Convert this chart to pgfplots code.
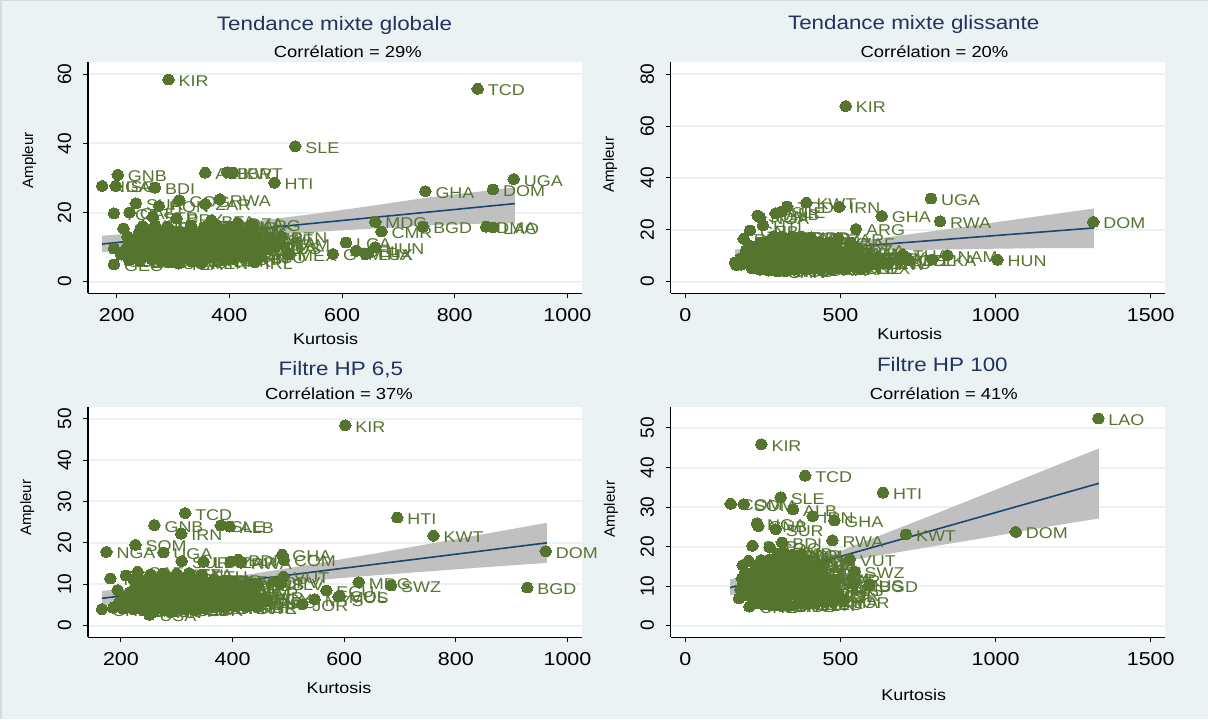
\documentclass[border=0pt]{standalone}
\usepackage{pgfplots}
\pgfplotsset{compat=1.18}
\usepackage{fontspec}
\setmainfont{Liberation Sans}
% the reference is stretched sideways: horizontal text gets a wider font
\newfontfamily\widesf[FakeStretch=1.15]{Liberation Sans}
\definecolor{bgc}{HTML}{EAF2F3}
\definecolor{ptc}{HTML}{55752F}
\definecolor{linec}{HTML}{1A476F}
\definecolor{titlec}{HTML}{22335F}
\definecolor{bandc}{HTML}{C0C0C0}

\pgfplotsset{
  stata/.style={
    scale only axis, anchor=south west, clip=false,
    width=370.5pt,
    axis x line*=bottom, axis y line*=left,
    axis line style={black,line width=0.9pt,-},
    axis background/.style={fill=white},
    ymajorgrids,
    grid style={bgc,line width=1.5pt},
    tick style={black,line width=0.7pt},
    tick align=outside,
    major tick length=3.8pt,
    /pgf/number format/assume math mode=true,
    /pgf/number format/1000 sep={},
    every axis title shift=0pt,
    xticklabel style={font=\widesf\fontsize{14}{14}\selectfont,yshift=-7.5pt,text height=10pt,inner sep=0pt},
    yticklabel style={font=\fontsize{14.3}{14}\selectfont,rotate=90,anchor=south,xshift=0pt,yshift=8.5pt,inner sep=0pt},
    title style={font=\widesf\fontsize{14.6}{15}\selectfont,text=titlec,anchor=center},
    xlabel style={font=\widesf\fontsize{11.7}{12}\selectfont,anchor=center},
    ylabel style={font=\fontsize{11.3}{12}\selectfont,anchor=center,rotate=0},
  },
  pts/.style={
    only marks, mark=*, mark size=4.2pt,
    mark options={draw=ptc,fill=ptc,line width=0pt,xscale=1.05,yscale=0.95},
    point meta=explicit symbolic,
    nodes near coords,
    nodes near coords style={anchor=west,inner sep=0pt,xshift=7.6pt,yshift=-1.2pt,
      font=\widesf\fontsize{11.7}{12}\selectfont,text=ptc},
  },
  band/.style={fill=bandc,draw=none,forget plot},
  fit/.style={linec,line width=1.2pt,no marks},
}

\newcommand{\subt}[2]{\node[font=\widesf\fontsize{12}{12}\selectfont,anchor=center] at (rel axis cs:#1,#2)}

\begin{document}
\begin{tikzpicture}
\fill[bgc] (0,0) rectangle (906pt,539.25pt);
\fill[black!15] (0,0) rectangle (1.5pt,539.25pt);
\fill[black!15] (0,538.5pt) rectangle (906pt,539.25pt);

% ---- Tendance mixte globale
\begin{axis}[stata, at={(66pt,319.3pt)}, height=173.5pt,
  xmin=149, xmax=1026, ymin=-3.36, ymax=63.6,
  xtick={200,400,600,800,1000}, ytick={0,20,40,60},
  title={Tendance mixte globale}, title style={at={(axis description cs:0.499,1.157)}},
  xlabel={Kurtosis}, xlabel style={at={(axis description cs:0.481,-0.196)}},
  ylabel={Ampleur}, ylabel style={at={(axis description cs:-0.119,0.574)}},
]
\addplot[band] coordinates {(174,13.3)(250,14.2)(340,15.5)(450,17.6)(550,19.6)(650,21.9)(750,24.3)(850,26.2)(907,27.3)
  (907,16.9)(850,16.8)(750,16.3)(650,15.3)(550,14.4)(450,13.3)(340,11.7)(250,10.0)(174,8.5)} -- cycle;
\addplot[fit] coordinates {(174,10.9)(907,22.6)};
\addplot[pts] coordinates {
 (292,58.5)[KIR] (841,55.8)[TCD] (517,39.2)[SLE] (905,29.7)[UGA] (868,26.7)[DOM] (748,26.2)[GHA] (480,28.6)[HTI]
 (357,31.5)[ALB] (396,31.7)[LBR] (406,31.6)[KWT] (202,30.9)[GNB] (174,27.7)[NGA] (198,27.7)[ISG] (268,27.2)[BDI]
 (311,23.6)[COG] (383,23.9)[RWA] (357,22.5)[ZAR] (234,22.7)[SUR] (275,21.9)[HON] (195,19.8)[TCA] (223,20)[CAF]
 (264,18.8)[STP] (306,18.3)[PRY] (368,17.8)[BFA] (415,17)[DZA] (440,16.6)[ARG] (659,17.3)[MDG] (670,14.5)[CMR] (744,15.9)[BGD]
 (856,15.9)[DMA] (868,15.7)[LAO] (607,11.3)[LCA] (625,8.9)[BEL] (659,10)[HUN] (642,8)[THA] (646,8.2)[LUX] (584,8)[GTM]
 (504,7.9)[MEX] (445,5.6)[IRL] (492,13)[BTN] (478,10)[BOS] (212,15.4)[SEN] (195,9.6)[FJI] (195,5)[GEO]
 (222,6.2)[CZE] (241,5.9)[EST] (262,6.5)[BEN] (279,6)[CAN] (298,5.5)[USA] (316,6.7)[CHE] (333,5.8)[NOR] (352,6.4)[SWE] (371,6.9)[FRA] (389,6.2)[DNK] (408,6.6)[AUT] (426,7)[JPN]
 (208,7.8)[AUS] (226,8.2)[NZL] (244,7.6)[NLD] (259,8.4)[DEU] (277,7.9)[ITA] (295,8.3)[ESP] (312,8)[GBR] (329,7.7)[FIN] (347,8.5)[GRC] (365,8.1)[PRT] (384,7.9)[KOR] (402,8.4)[ISR] (420,8.2)[ISL] (437,7.7)[CYP] (455,8)[MLT]
 (216,9.5)[POL] (233,10)[SVK] (251,9.4)[SVN] (269,9.9)[HRV] (286,9.6)[LTU] (303,10.1)[LVA] (321,9.5)[BGR] (339,9.8)[ROU] (356,10.2)[UKR] (374,9.6)[RUS] (393,10)[BLR] (411,9.7)[KAZ] (429,10.1)[KGZ] (447,9.4)[TJK] (466,9.8)[MDA]
 (222,11.3)[MKD] (239,11)[SRB] (257,11.6)[TUR] (274,11.1)[TUN] (292,11.5)[MAR] (310,11.2)[EGY] (327,11.7)[JOR] (345,11)[SYR] (363,11.4)[YEM] (381,11.2)[OMN] (399,11.6)[IRQ] (417,11)[PAK] (435,11.5)[IND] (453,11.3)[NPL]
 (219,13)[LKA] (236,12.7)[BHS] (254,13.2)[CHN] (271,12.6)[MNG] (289,13)[VNM] (306,12.8)[KHM] (324,13.3)[MYS] (342,12.6)[SGP] (360,13)[IDN] (378,12.7)[PHL] (396,13.1)[PNG] (414,12.8)[BRA] (432,13.2)[CHL] (448,12.9)[PER]
 (240,14.4)[COL] (258,14.9)[ECU] (276,14.3)[BOL] (294,14.7)[URY] (313,14.4)[VEN] (331,15)[GUY] (349,14.3)[JAM] (367,14.8)[TTO] (386,14.4)[BRB] (404,14.9)[PAN] (422,14.3)[CRI] (440,14.6)[NIC]
 (246,16.1)[HND] (268,16.4)[SLV] (290,15.9)[BLZ] (332,16.2)[GRD] (355,15.8)[MOZ] (378,16.3)[MWI] (400,15.9)[ZMB]
 (471,12.4)[ZAF] (490,10.9)[NAM] (465,11.5)[BWA] (455,7.2)[LSO] (350,5.5)[KEN] (310,5.2)[TZA]
};
\subt{0.526}{1.045}{Corrélation = 29\%};
\end{axis}

% ---- Tendance mixte glissante
\begin{axis}[stata, at={(503pt,319.3pt)}, height=173.5pt,
  xmin=-47.5, xmax=1545, ymin=-4.48, ymax=84.7,
  xtick={0,500,1000,1500}, ytick={0,20,40,60,80},
  title={Tendance mixte glissante}, title style={at={(axis description cs:0.492,1.16)}},
  xlabel={Kurtosis}, xlabel style={at={(axis description cs:0.484,-0.176)}},
  ylabel={Ampleur}, ylabel style={at={(axis description cs:-0.123,0.555)}},
]
\addplot[band] coordinates {(160,12.4)(250,12.8)(400,13.7)(550,15.5)(700,17.9)(850,20.3)(1000,22.9)(1150,25.4)(1317,28.2)
  (1317,12.9)(1150,12.9)(1000,12.7)(850,12.4)(700,12.1)(550,11.7)(400,10.7)(250,8.9)(160,7.6)} -- cycle;
\addplot[fit] coordinates {(160,10)(1317,20.7)};
\addplot[pts] coordinates {
 (517,67.7)[KIR] (792,32)[UGA] (821,23.3)[RWA] (1315,23)[DOM] (633,25.3)[GHA] (496,28.8)[IRN] (390,30.4)[KWT]
 (328,28.9)[TCD] (310,27)[SLE] (291,26.4)[ALB] (233,25.5)[SOM] (241,24.8)[NGA] (250,21.7)[HTI] (208,19.7)[GNB] (188,16.5)[BDI]
 (550,20.3)[ARG] (493,16.8)[ZAR] (534,15)[ZAF] (560,12.5)[DZA] (1006,8.4)[HUN] (845,10.2)[NAM] (796,8.6)[LKA] (701,10.3)[THA] (720,8.4)[COL] (695,8.6)[SLE]
 (164,6.4)[LAO] (160,7.3)[GEO] (179,9)[FJI]
 (215,5.1)[CZE] (240,4.6)[EST] (268,4.2)[USA] (297,3.9)[CAN] (324,4.1)[AUS] (352,4.6)[NZL] (380,4.9)[NOR] (408,5)[SWE] (436,4.8)[FRA] (464,5.2)[DNK] (492,5)[AUT] (520,5.3)[JPN] (550,5.4)[BEL] (580,5.5)[LUX]
 (178,6.5)[NLD] (203,6.9)[DEU] (231,7.1)[ITA] (259,6.7)[ESP] (287,7.2)[GBR] (315,6.8)[FIN] (343,7)[GRC] (371,7.3)[PRT] (399,6.7)[KOR] (427,7.1)[ISR] (455,6.9)[ISL] (483,7.2)[CYP] (511,6.8)[MLT] (539,7.3)[POL] (567,6.9)[SVK] (595,7.2)[SVN] (625,7)[HRV] (655,7.4)[LTU]
 (196,9.2)[LVA] (224,8.8)[BGR] (252,9.3)[ROU] (280,9)[UKR] (308,9.4)[RUS] (336,8.9)[BLR] (364,9.2)[KAZ] (392,9)[KGZ] (420,9.5)[TJK] (448,8.9)[MDA] (476,9.3)[MKD] (504,9.1)[SRB] (532,9.4)[TUR] (560,8.9)[TUN] (590,9.2)[MAR] (620,9.5)[EGY]
 (215,11)[JOR] (243,11.4)[SYR] (271,10.9)[YEM] (299,11.2)[OMN] (327,11.5)[IRQ] (355,11)[PAK] (383,11.3)[IND] (411,10.9)[NPL] (439,11.4)[BHS] (467,11.1)[CHN] (495,11.3)[MNG] (523,11)[VNM] (550,11.3)[KHM]
 (225,13.2)[MYS] (253,13)[SGP] (281,13.4)[IDN] (309,12.9)[PHL] (337,13.3)[PNG] (365,13)[BRA] (393,13.4)[CHL] (421,13)[PER] (449,13.2)[ECU] (477,13)[BOL]
 (240,15)[URY] (265,15.4)[VEN] (293,15.1)[GUY] (321,15.5)[JAM] (349,15)[TTO] (377,15.4)[BRB] (405,15)[PAN] (433,15.3)[CRI] (458,15)[NIC]
 (285,17.5)[HND] (310,17.3)[SLV] (340,17)[BLZ] (372,17.4)[GRD] (405,17.1)[MOZ] (205,14)[MWI] (195,12)[ZMB]
};
\subt{0.534}{1.045}{Corrélation = 20\%};
\end{axis}

% ---- Filtre HP 6,5
\begin{axis}[stata, at={(66pt,61.3pt)}, height=173pt,
  xmin=141, xmax=1026, ymin=-2.8, ymax=52.9,
  xtick={200,400,600,800,1000}, ytick={0,10,20,30,40,50},
  title={Filtre HP 6,5}, title style={at={(axis description cs:0.512,1.159)}},
  xlabel={Kurtosis}, xlabel style={at={(axis description cs:0.508,-0.22)}},
  ylabel={Ampleur}, ylabel style={at={(axis description cs:-0.123,0.561)}},
]
\addplot[band] coordinates {(166,8.4)(250,9.3)(340,10.6)(450,12.8)(550,15)(650,17.3)(750,19.7)(850,22.1)(963,24.85)
  (963,15.15)(850,14.1)(750,13.1)(650,12.1)(550,11)(450,10)(340,8.4)(250,6.7)(166,4.85)} -- cycle;
\addplot[fit] coordinates {(166,6.6)(963,20)};
\addplot[pts] coordinates {
 (602,48.4)[KIR] (315,27.2)[TCD] (695,26.1)[HTI] (260,24.3)[GNB] (379,24.2)[SLE] (395,23.9)[ALB] (308,22.2)[IRN] (760,21.7)[KWT]
 (226,19.5)[SOM] (961,18)[DOM] (174,17.8)[NGA] (276,17.7)[UGA] (489,17.1)[GHA] (492,15.9)[COM] (309,15.6)[SUR] (348,15.4)[LBR]
 (410,15.9)[BDI] (397,15.5)[ZAR] (415,15.2)[RWA] (230,13)[CAF] (209,12.1)[STP] (181,11.4)[TGO] (491,11.8)[VUT]
 (626,10.5)[MDG] (684,9.7)[SWZ] (928,9.2)[BGD] (568,8.5)[ECU] (592,7.2)[COL] (590,7)[MUS] (547,6.4)[MYS] (525,5.2)[JOR] (487,10.2)[SLV] (473,10.6)[CPV]
 (444,4.6)[ISR] (463,5.8)[BOS] (442,5.4)[THA] (166,4)[CHE] (251,2.6)[USA] (194,8.6)[PRY]
 (186,4.3)[NLD] (204,4.1)[AUT] (222,4)[BEL] (240,3.7)[DEU] (259,3.3)[CAN] (278,3.6)[FRA] (296,3.9)[AUS] (314,4.1)[NZL] (332,3.8)[GBR] (350,4.2)[ITA] (368,4.4)[ESP] (386,4.3)[DNK] (404,4.6)[NOR] (424,4.5)[SWE]
 (196,5.5)[JPN] (214,5.2)[FIN] (232,5.6)[GRC] (250,5.3)[PRT] (268,5)[KOR] (286,5.5)[ISL] (304,5.2)[CYP] (322,5.6)[MLT] (340,5.3)[POL] (358,5.7)[SVK] (376,5.4)[SVN] (394,5.7)[HRV] (412,5.3)[LTU] (430,5.6)[LVA]
 (204,6.7)[BGR] (222,7)[ROU] (240,6.6)[UKR] (258,7.1)[RUS] (276,6.7)[BLR] (294,7)[KAZ] (312,6.6)[KGZ] (330,7.1)[TJK] (348,6.8)[MDA] (366,7.2)[MKD] (384,6.7)[SRB] (402,7)[TUR] (420,6.7)[TUN] (438,7)[MAR] (456,6.6)[EGY]
 (216,8)[SYR] (234,8.4)[YEM] (252,8)[OMN] (270,8.5)[IRQ] (288,8.1)[PAK] (306,8.4)[IND] (324,8)[NPL] (342,8.5)[BHS] (360,8.1)[CHN] (378,8.4)[MNG] (396,8)[VNM] (414,8.3)[KHM] (432,8.1)[SGP]
 (226,9.5)[IDN] (244,9.9)[PHL] (262,9.4)[PNG] (280,9.8)[BRA] (298,9.5)[CHL] (316,9.9)[PER] (334,9.4)[BOL] (352,9.8)[URY] (370,9.5)[VEN] (388,9.9)[GUY] (406,9.5)[JAM] (424,9.9)[TTO] (445,10.1)[BRB]
 (222,11.2)[PAN] (240,10.9)[CRI] (258,11.3)[NIC] (276,11)[HND] (294,11.4)[BLZ] (312,10.9)[GRD] (330,11.2)[MOZ] (348,10.8)[MWI] (366,11.1)[ZMB] (384,10.9)[ZAF] (402,10.6)[NAM]
 (253,12.4)[BWA] (275,12.6)[LSO] (300,12.5)[KEN] (322,12.7)[TZA] (345,12.2)[ETH]
};
\subt{0.508}{1.055}{Corrélation = 37\%};
\end{axis}

% ---- Filtre HP 100
\begin{axis}[stata, at={(503pt,61.3pt)}, height=173pt,
  xmin=-47.5, xmax=1545, ymin=-2.93, ymax=55.4,
  xtick={0,500,1000,1500}, ytick={0,10,20,30,40,50},
  title={Filtre HP 100}, title style={at={(axis description cs:0.55,1.181)}},
  xlabel={Kurtosis}, xlabel style={at={(axis description cs:0.492,-0.25)}},
  ylabel={Ampleur}, ylabel style={at={(axis description cs:-0.121,0.556)}},
]
\addplot[band] coordinates {(144,11.7)(250,13.4)(380,15.7)(500,18.9)(650,23.5)(800,28.1)(950,32.8)(1100,37.5)(1220,41.3)(1333,44.8)
  (1333,27.1)(1220,25.7)(1100,24.1)(950,22)(800,20.1)(650,18.1)(500,16.1)(380,13.9)(250,10.4)(144,7.6)} -- cycle;
\addplot[fit] coordinates {(144,9.6)(1333,36)};
\addplot[pts] coordinates {
 (1331,52.4)[LAO] (245,45.9)[KIR] (386,37.9)[TCD] (637,33.6)[HTI] (307,32.5)[SLE] (146,30.8)[COM] (188,30.7)[SOM] (347,29.4)[ALB] (410,27.7)[IRN]
 (480,26.6)[GHA] (231,25.9)[NGA] (235,25.2)[GNB] (291,24.4)[SUR] (711,23.1)[KWT] (1065,23.7)[DOM] (474,21.6)[RWA] (312,21)[BDI]
 (216,20.2)[STP] (272,19.8)[COG] (530,16.8)[VUT] (545,13.7)[SWZ] (592,10.1)[BGD] (542,10.5)[MUS] (510,6.2)[JOR] (481,11.6)[ZAR]
 (206,4.8)[CHE] (173,6.9)[AUT] (185,15.3)[TGO] (204,16.4)[CAF]
 (222,5.6)[BEL] (250,5.4)[NLD] (278,5.1)[USA] (306,5)[CAN] (334,5.2)[AUS] (362,5.6)[NZL] (390,5.4)[GBR] (418,5.7)[DEU] (446,5.9)[ISR] (474,6)[THA]
 (190,7.6)[FRA] (216,7.4)[ITA] (244,7.8)[ESP] (272,7.3)[DNK] (300,7.7)[NOR] (328,7.4)[SWE] (356,7.8)[JPN] (384,7.4)[FIN] (412,7.7)[GRC] (440,7.4)[PRT] (468,7.8)[KOR] (495,7.6)[ISL]
 (178,9.1)[CYP] (204,9)[MLT] (232,9.3)[POL] (260,8.9)[SVK] (288,9.3)[SVN] (316,9)[HRV] (344,9.4)[LTU] (372,8.9)[LVA] (400,9.2)[BGR] (428,9)[ROU] (456,9.3)[UKR] (484,9.1)[RUS]
 (186,10.6)[KAZ] (212,10.4)[KGZ] (240,10.8)[TJK] (268,10.4)[MDA] (296,10.7)[MKD] (324,10.3)[SRB] (352,10.7)[TUR] (380,10.4)[TUN] (408,10.8)[MAR] (436,10.4)[EGY] (464,10.7)[SYR]
 (182,12)[OMN] (208,12.2)[IRQ] (236,11.9)[PAK] (264,12.3)[IND] (292,11.9)[NPL] (320,12.3)[BHS] (348,12)[CHN] (376,12.2)[MNG] (404,11.9)[VNM] (432,12.3)[KHM] (455,12)[MYS]
 (192,13.4)[SGP] (220,13.6)[IDN] (248,13.3)[PHL] (276,13.7)[PNG] (304,13.4)[BRA] (332,13.7)[CHL] (360,13.3)[PER] (388,13.6)[ECU] (416,13.4)[COL] (438,13.6)[BOL]
 (228,15)[URY] (256,15.3)[VEN] (284,15)[GUY] (312,15.4)[JAM] (340,15)[TTO] (368,15.3)[BRB] (396,15)[PAN] (420,15.2)[CRI]
 (244,16.6)[NIC] (272,16.8)[HND] (300,16.5)[SLV] (328,16.9)[BLZ] (356,16.5)[GRD] (384,16.7)[MOZ]
 (300,18.2)[MWI] (320,18.4)[ZMB] (345,18)[BGR] (375,18.1)[BOL]
};
\subt{0.553}{1.055}{Corrélation = 41\%};
\end{axis}
\end{tikzpicture}
\end{document}
